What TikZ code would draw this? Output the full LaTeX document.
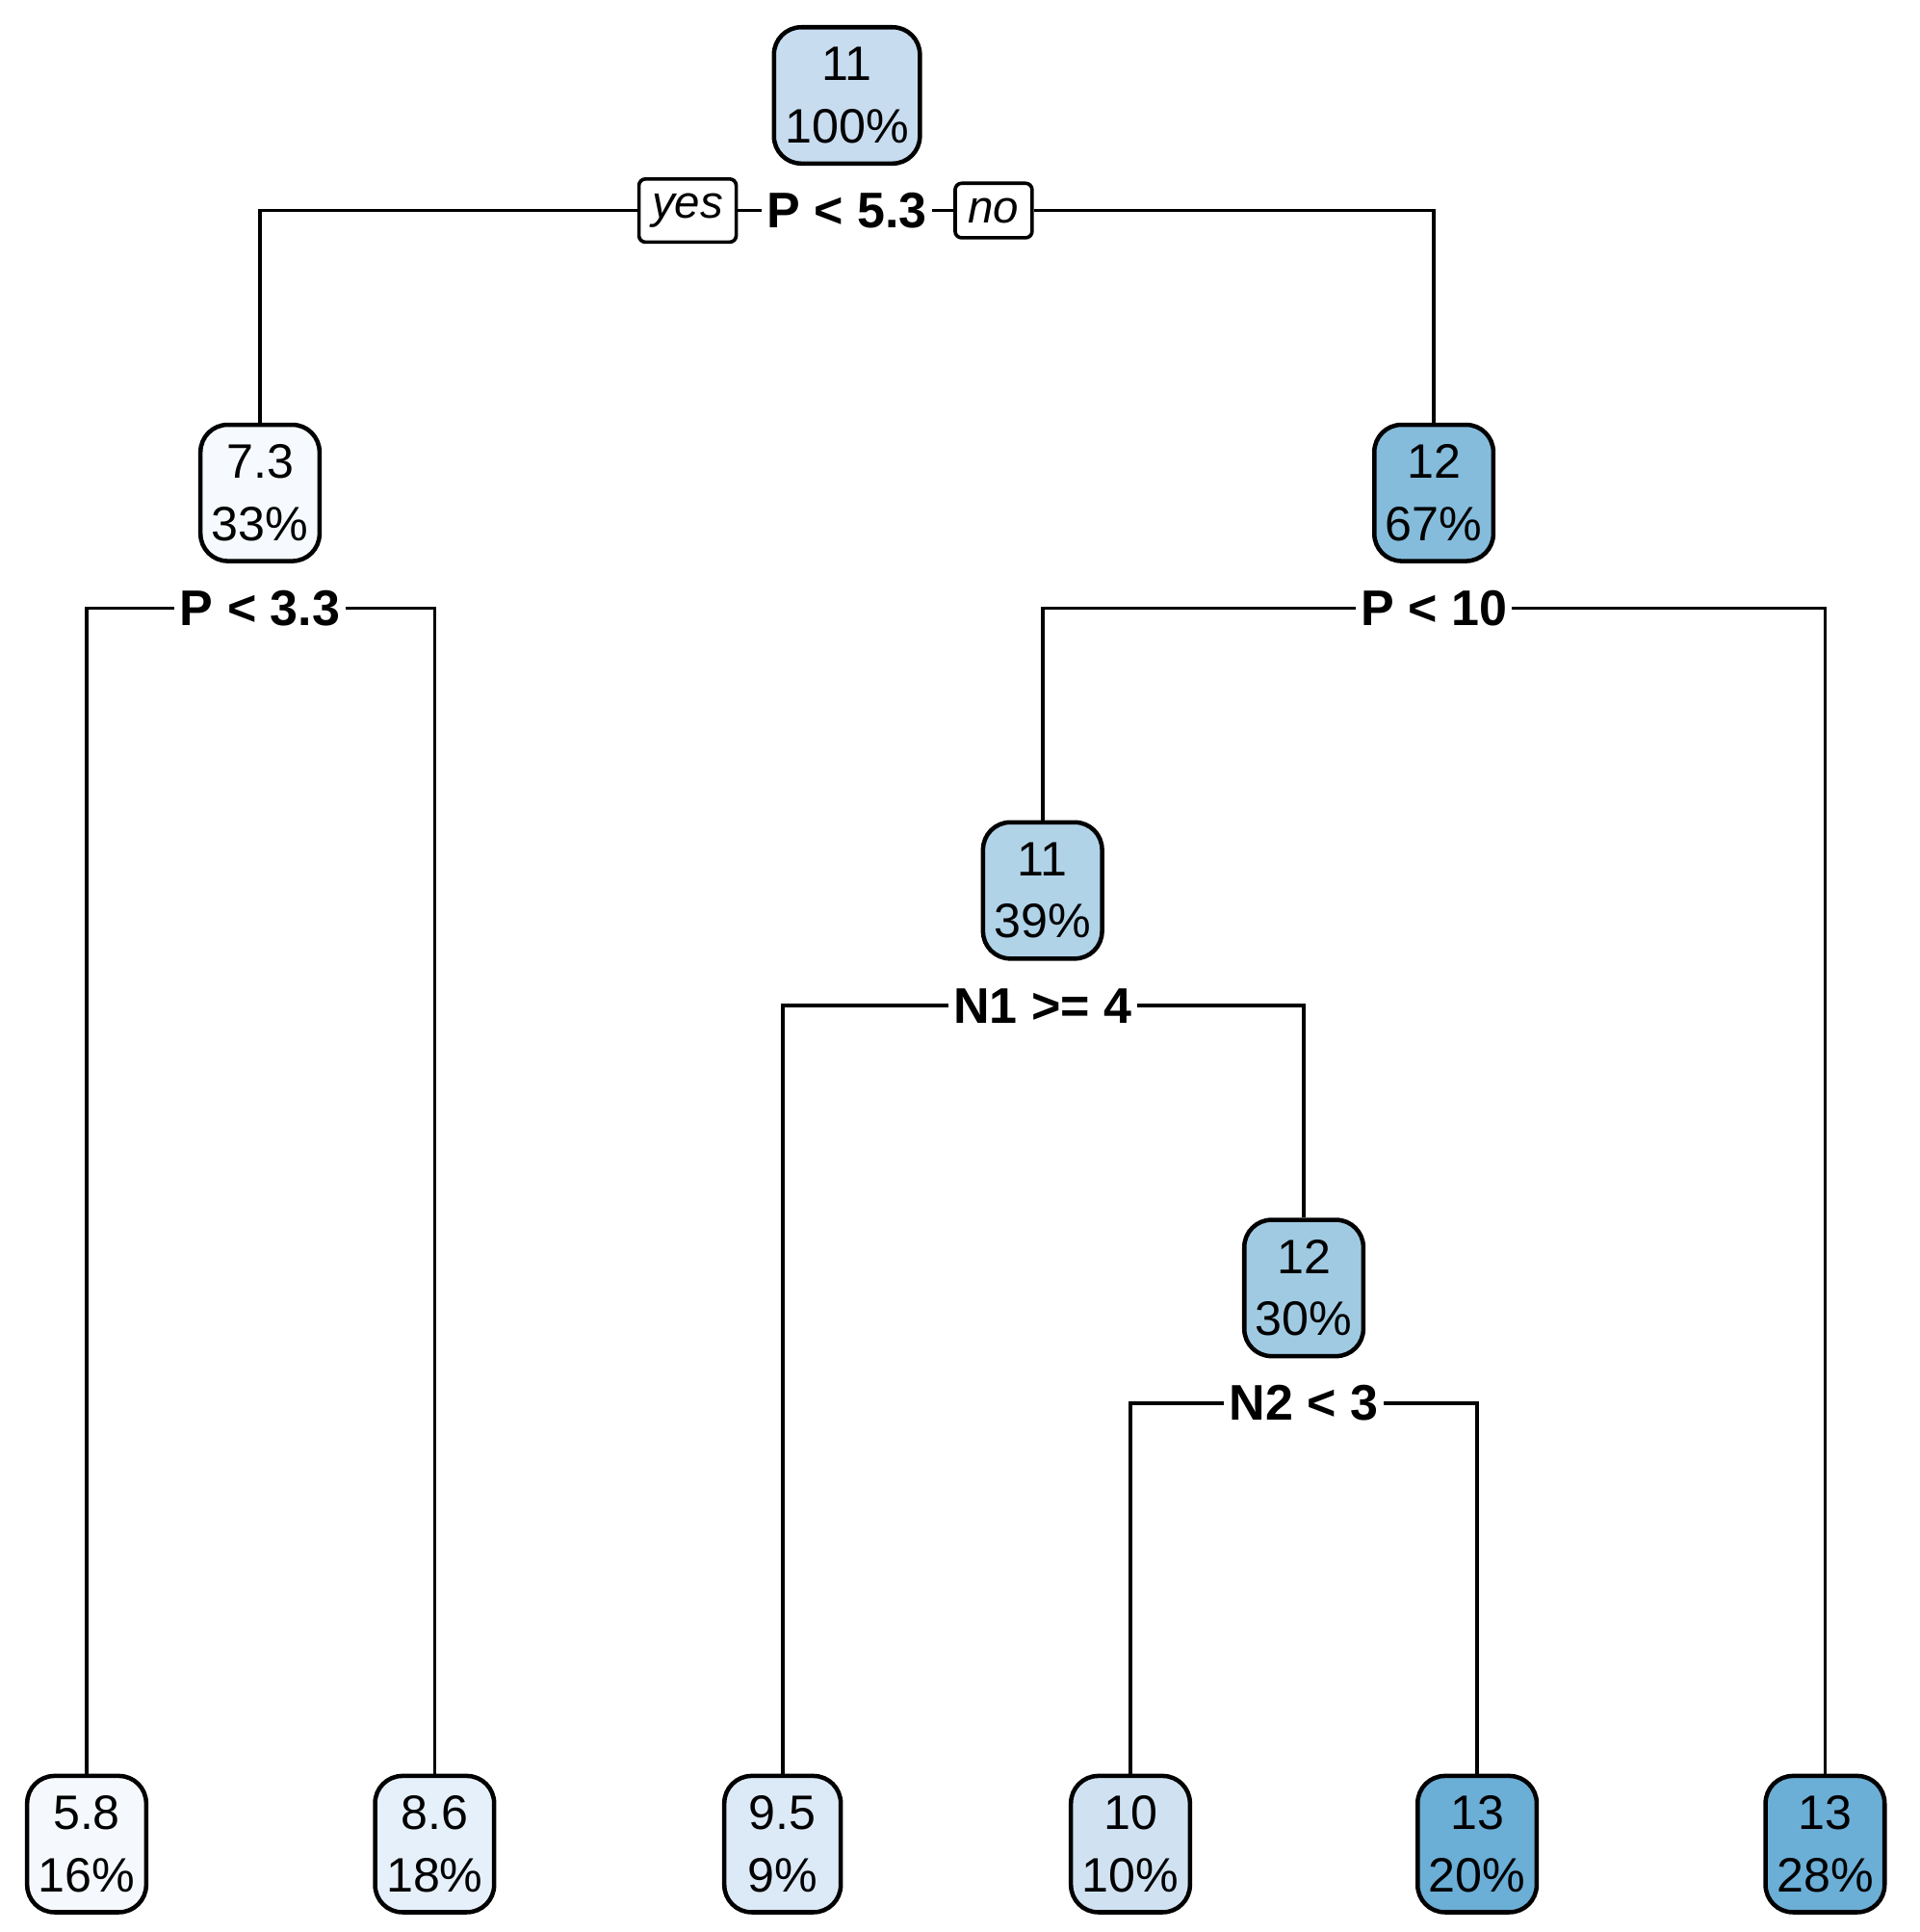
\documentclass[tikz,border=0pt]{standalone}
\usepackage{fontspec}
\setmainfont{Liberation Sans}
\begin{document}
\begin{tikzpicture}[x=0.01cm,y=-0.01cm,
  box/.style={draw,line width=1pt,rounded corners=0.22cm,align=center,minimum width=0.94cm,minimum height=1.1cm,inner xsep=0.09cm,font=\fontsize{11.1}{14.2}\selectfont},
  split/.style={fill=white,inner xsep=1pt,inner ysep=1pt,font=\fontsize{11.5}{13}\selectfont\bfseries},
  yn/.style={draw,line width=0.8pt,rounded corners=1.5pt,fill=white,inner xsep=3pt,minimum height=0.44cm,font=\fontsize{10.5}{12}\selectfont\itshape},
  edge/.style={line width=0.8pt}]
\useasboundingbox (0,0) rectangle (1550,1560);
\definecolor{c0}{HTML}{C8DCF0}
\definecolor{c1}{HTML}{F6FAFE}
\definecolor{c2}{HTML}{85BCDC}
\definecolor{c3}{HTML}{B1D3E8}
\definecolor{c4}{HTML}{A0CAE2}
\definecolor{c5}{HTML}{F5F9FE}
\definecolor{c6}{HTML}{E6F0FA}
\definecolor{c7}{HTML}{DCE9F6}
\definecolor{c8}{HTML}{D0E2F2}
\definecolor{c9}{HTML}{6BAED6}
% nodes
\node[box,fill=c0] (n1) at (684,77) {11\\100\%};
\node[box,fill=c1] (n2) at (210,398) {7.3\\33\%};
\node[box,fill=c2] (n3) at (1158,398) {12\\67\%};
\node[box,fill=c3] (n6) at (842,719) {11\\39\%};
\node[box,fill=c4] (n13) at (1053,1040) {12\\30\%};
\node[box,fill=c5] (l1) at (70,1489) {5.8\\16\%};
\node[box,fill=c6] (l2) at (351,1489) {8.6\\18\%};
\node[box,fill=c7] (l3) at (632,1489) {9.5\\9\%};
\node[box,fill=c8] (l4) at (913,1489) {10\\10\%};
\node[box,fill=c9] (l5) at (1193,1489) {13\\20\%};
\node[box,fill=c9] (l6) at (1474,1489) {13\\28\%};
% split labels
\node[split] (s1) at (684,170) {P < 5.3};
\node[yn,anchor=east] (yes) at (596,170) {yes};
\node[yn,anchor=west] (no) at (770,170) {no};
\node[split] (s2) at (210,491) {P < 3.3};
\node[split] (s3) at (1158,491) {P < 10};
\node[split] (s6) at (842,812) {N1 >= 4};
\node[split] (s13) at (1053,1133) {N2 < 3};
% edges
\draw[edge] (s1.west) -- (yes.east);
\draw[edge] (s1.east) -- (no.west);
\draw[edge] (yes.west) -| (n2.north);
\draw[edge] (no.east) -| (n3.north);
\draw[edge] (s2.west) -| (l1.north);
\draw[edge] (s2.east) -| (l2.north);
\draw[edge] (s3.west) -| (n6.north);
\draw[edge] (s3.east) -| (l6.north);
\draw[edge] (s6.west) -| (l3.north);
\draw[edge] (s6.east) -| (n13.north);
\draw[edge] (s13.west) -| (l4.north);
\draw[edge] (s13.east) -| (l5.north);
\end{tikzpicture}
\end{document}
